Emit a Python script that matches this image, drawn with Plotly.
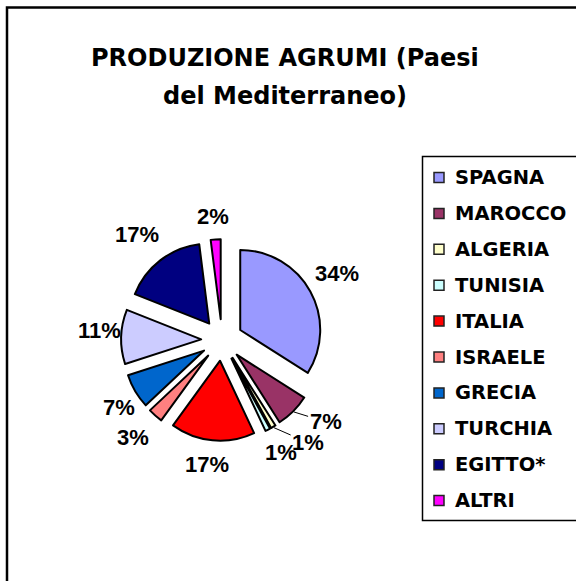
import math
import plotly.graph_objects as go

# ---- data ----
labels = ["SPAGNA", "MAROCCO", "ALGERIA", "TUNISIA", "ITALIA",
          "ISRAELE", "GRECIA", "TURCHIA", "EGITTO*", "ALTRI"]
values = [34, 7, 1, 1, 17, 3, 7, 11, 17, 2]
colors = ["#9999FF", "#993366", "#FFFFCC", "#CCFFFF", "#FF0000",
          "#FF8080", "#0066CC", "#CCCCFF", "#000080", "#FF00FF"]
title_lines = ["PRODUZIONE AGRUMI (Paesi", "del Mediterraneo)"]

# ---- layout constants ----
W, H = 576, 581
FONT = "Liberation Sans, Arial, sans-serif"
WIDE = "DejaVu Sans, Liberation Sans, sans-serif"
pull = 0.26
r = 80
cx, cy = 222, 340
box = 2 * r * (1 + pull)
dom_x = [(cx - box / 2) / W, (cx + box / 2) / W]
dom_y = [1 - (cy + box / 2) / H, 1 - (cy - box / 2) / H]

# data-label placement (angle nudge in degrees from the slice bisector, distance from centre in px)
label_dtheta = [-1, -6.7, -9.4, -0.8, 1.3, 1.1, -2.5, 2.4, -1.1, -0.6]
label_dist = [133, 132, 134, 127, 125, 132, 123, 123, 136, 124]
leader = {"MAROCCO", "ALGERIA"}

fig = go.Figure(go.Pie(
    labels=labels, values=values, sort=False, direction="clockwise", rotation=0,
    pull=[pull] * len(values),
    marker=dict(colors=colors, line=dict(color="black", width=2)),
    textinfo="none",
    domain=dict(x=dom_x, y=dom_y), showlegend=False,
))

shapes = []
annotations = []

# chart frame
shapes.append(dict(type="rect", xref="paper", yref="paper",
                   x0=7 / W, x1=1.05, y0=-0.05, y1=1 - 7.5 / H,
                   line=dict(color="black", width=2.5), layer="below"))

# title
title_y = [58, 96]
for t, yy in zip(title_lines, title_y):
    annotations.append(dict(text=t, x=285 / W, y=1 - yy / H, xref="paper", yref="paper",
                            xanchor="center", yanchor="middle", showarrow=False,
                            font=dict(family=WIDE, size=24, color="black", weight="bold")))

# percentage labels
total = sum(values)
cum = 0
for i, (lab, v) in enumerate(zip(labels, values)):
    mid = (cum + v / 2) / total * 360
    cum += v
    th = math.radians(mid + label_dtheta[i])
    lx = cx + label_dist[i] * math.sin(th)
    ly = cy - label_dist[i] * math.cos(th)
    pct = f"{round(100 * v / total)}%"
    fnt = dict(family=FONT, size=22, color="black", weight="bold")
    if lab in leader:
        tb = math.radians(mid)
        edge = r * (1 + pull) + 1
        ex = cx + edge * math.sin(tb)
        ey = cy - edge * math.cos(tb)
        annotations.append(dict(text=pct, x=ex / W, y=1 - ey / H, xref="paper", yref="paper",
                                ax=lx - ex, ay=ly - ey, showarrow=True, arrowhead=0,
                                arrowwidth=1, arrowcolor="black", standoff=0,
                                xanchor="center", yanchor="middle", font=fnt))
    else:
        annotations.append(dict(text=pct, x=lx / W, y=1 - ly / H, xref="paper", yref="paper",
                                xanchor="center", yanchor="middle", showarrow=False, font=fnt))

# legend box
shapes.append(dict(type="rect", xref="paper", yref="paper",
                   x0=422.5 / W, x1=1.05, y0=1 - 520.5 / H, y1=1 - 156.5 / H,
                   line=dict(color="black", width=1.5)))
leg_top, leg_step = 177.5, 35.9
sq = 10
for i, (lab, col) in enumerate(zip(labels, colors)):
    yc = leg_top + i * leg_step
    shapes.append(dict(type="rect", xref="paper", yref="paper",
                       x0=434 / W, x1=(434 + sq) / W,
                       y0=1 - (yc + sq / 2) / H, y1=1 - (yc - sq / 2) / H,
                       fillcolor=col, line=dict(color="#222222", width=1.5)))
    annotations.append(dict(text=lab, x=453 / W, y=1 - yc / H, xref="paper", yref="paper",
                            xanchor="left", yanchor="middle", showarrow=False,
                            font=dict(family=WIDE, size=19.5, color="black", weight="bold")))

fig.update_layout(width=W, height=H, margin=dict(l=0, r=0, t=0, b=0),
                  paper_bgcolor="white", plot_bgcolor="white",
                  shapes=shapes, annotations=annotations)

fig.write_html("out.html", config={"displayModeBar": False},
               post_script="document.body.style.margin='0px';")
